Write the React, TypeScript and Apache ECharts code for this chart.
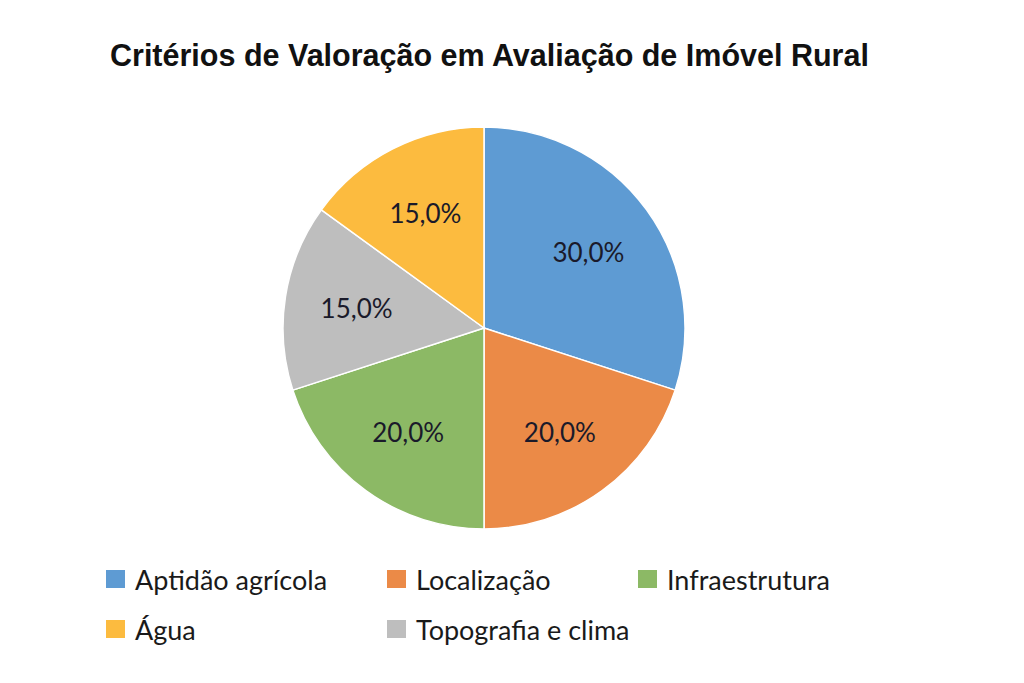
import {useEffect, useRef} from 'react';
import * as echarts from 'echarts';
import type {EChartsOption} from 'echarts';

const categories = ['Aptidão agrícola', 'Localização', 'Infraestrutura', 'Topografia e clima', 'Água'];
const shares = [30, 20, 20, 15, 15];
const colors = ['#5e9bd3', '#eb8a47', '#8cb965', '#bebebe', '#fcbb3f'];

const legendColumns = [
    ['Aptidão agrícola', 'Água'],
    ['Localização', 'Topografia e clima'],
    ['Infraestrutura'],
];
const legendLeft = [99, 380, 631];

const App = () => {
    const chartRef = useRef(null);

    useEffect(() => {
        if (!chartRef.current) return;
        const chart = echarts.init(chartRef.current as any, null, {renderer: 'svg'});
        const pieData = categories.map((name, i) => ({
            name,
            value: shares[i],
            itemStyle: {color: colors[i]},
        }));
        const option: EChartsOption = {
            animation: false,
            backgroundColor: '#ffffff',
            title: {
                text: 'Critérios de Valoração em Avaliação de Imóvel Rural',
                left: 105,
                top: 34,
                textStyle: {
                    fontFamily: 'Liberation Sans',
                    fontWeight: 'bold',
                    fontSize: 30.5,
                    color: '#111111',
                },
            },
            legend: legendColumns.map((col, i) => ({
                data: col.map((name) => ({
                    name,
                    itemStyle: {color: colors[categories.indexOf(name)]},
                })),
                orient: 'vertical',
                left: legendLeft[i],
                top: 559,
                icon: 'rect',
                itemWidth: 21,
                itemHeight: 20,
                itemGap: 20,
                selectedMode: false,
                textStyle: {
                    fontFamily: 'Lato',
                    fontSize: 27,
                    lineHeight: 30,
                    color: '#1a1a1a',
                    padding: [0, 0, 0, 4],
                },
            })),
            series: [
                {
                    type: 'pie',
                    center: [484, 328],
                    radius: [0, 201],
                    startAngle: 90,
                    clockwise: true,
                    data: pieData,
                    label: {show: false},
                    labelLine: {show: false},
                    itemStyle: {borderColor: '#ffffff', borderWidth: 1.5},
                },
                {
                    // transparent copy only to place the percentage labels further out
                    type: 'pie',
                    center: [484, 328],
                    radius: [0, 252],
                    startAngle: 90,
                    clockwise: true,
                    silent: true,
                    legendHoverLink: false,
                    data: categories.map((name, i) => ({name, value: shares[i]})),
                    itemStyle: {color: 'rgba(0,0,0,0)'},
                    label: {
                        show: true,
                        position: 'inside',
                        formatter: (p: any) => `${p.value.toFixed(1).replace('.', ',')}%`,
                        fontFamily: 'Lato',
                        fontSize: 26,
                        color: '#1a1a2a',
                    },
                    labelLine: {show: false},
                },
            ],
        };
        chart.setOption(option);

        return () => {
            chart.dispose();
        };
    }, []);

    return (
        <div
            ref={chartRef}
            style={{position: 'fixed', left: 0, top: 0, width: 1024, height: 683}}
        />
    );
};

export default App;
